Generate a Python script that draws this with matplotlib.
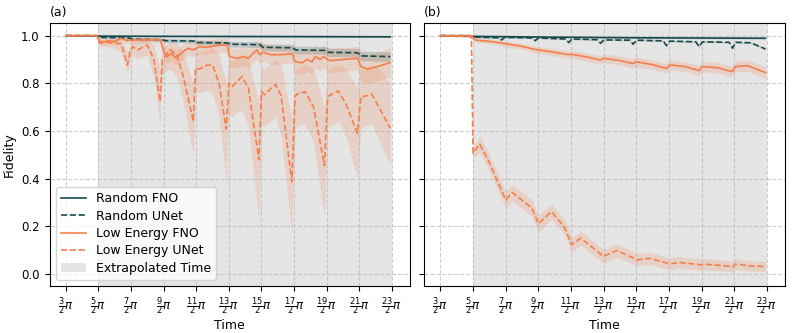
import numpy as np
import matplotlib
matplotlib.use("Agg")
import matplotlib.pyplot as plt
from matplotlib.patches import Patch
from matplotlib.lines import Line2D

# ---------------- data (time in units of pi) ----------------
tick_nums = [3, 5, 7, 9, 11, 13, 15, 17, 19, 21, 23]
extrap_start, extrap_end = 2.5, 11.5

# ---- panel (a) ----
a_rfno_t = [1.5, 2.5, 4.5, 8.5, 11.45]
a_rfno_y = [1.0, 0.998, 0.997, 0.996, 0.995]
a_rfno_w = [0.0, 0.002, 0.002, 0.003, 0.003]

a_runet_t = [1.5, 2.45, 2.55, 3.45, 3.55, 4.45, 4.55, 5.45, 5.55, 6.45, 6.55,
             7.45, 7.55, 8.45, 8.55, 9.45, 9.55, 10.45, 10.55, 11.45]
a_runet_y = [1.0, 1.0, 0.993, 0.99, 0.985, 0.983, 0.979, 0.977, 0.971, 0.969,
             0.964, 0.962, 0.951, 0.949, 0.940, 0.938, 0.930, 0.928, 0.915, 0.912]
a_runet_w = [0.0, 0.0, 0.004, 0.004, 0.006, 0.006, 0.008, 0.008, 0.010, 0.010,
             0.012, 0.012, 0.014, 0.014, 0.016, 0.016, 0.018, 0.018, 0.020, 0.020]

a_lfno_t = [1.5, 2.45, 2.55, 2.8, 3.0, 3.19, 3.35, 3.7, 4.0, 4.4, 4.5, 4.6,
            4.75, 4.85, 4.95, 5.1, 5.25, 5.4, 5.6, 5.8, 6.0, 6.2, 6.45, 6.52,
            6.75, 6.95, 7.1, 7.2, 7.36, 7.45, 7.55, 7.8, 8.1, 8.45, 8.52, 8.75,
            8.9, 9.05, 9.15, 9.3, 9.4, 9.6, 10.0, 10.45, 10.55, 10.75, 11.05, 11.45]
a_lfno_y = [1.0, 1.0, 0.968, 0.978, 0.975, 0.989, 0.98, 0.982, 0.982, 0.983,
            0.933, 0.912, 0.925, 0.908, 0.915, 0.933, 0.947, 0.94, 0.954, 0.95,
            0.955, 0.96, 0.96, 0.912, 0.905, 0.912, 0.905, 0.92, 0.94, 0.92,
            0.93, 0.92, 0.92, 0.925, 0.891, 0.886, 0.9, 0.89, 0.912, 0.9,
            0.912, 0.895, 0.9, 0.905, 0.87, 0.86, 0.87, 0.887]
a_lfno_w = [0.0, 0.0, 0.012, 0.012, 0.012, 0.012, 0.012, 0.012, 0.012, 0.012,
            0.03, 0.03, 0.03, 0.03, 0.03, 0.03, 0.03, 0.03, 0.03, 0.03,
            0.03, 0.03, 0.03, 0.04, 0.04, 0.04, 0.04, 0.04, 0.04, 0.04,
            0.04, 0.04, 0.04, 0.04, 0.05, 0.05, 0.05, 0.05, 0.05, 0.05,
            0.05, 0.05, 0.05, 0.05, 0.06, 0.06, 0.06, 0.06]

a_lunet_t = [1.5, 2.45, 2.55, 2.9, 3.2, 3.39, 3.47, 3.55, 3.7, 4.0, 4.2, 4.39,
             4.46, 4.55, 4.7, 4.9, 5.1, 5.41, 5.48, 5.6, 5.8, 6.0, 6.2, 6.42,
             6.5, 6.6, 6.9, 7.1, 7.42, 7.5, 7.6, 7.92, 8.1, 8.43, 8.53, 8.6,
             8.84, 9.1, 9.43, 9.53, 9.6, 9.86, 10.1, 10.44, 10.55, 10.65, 10.88,
             11.1, 11.45]
a_lunet_y = [1.0, 1.0, 0.975, 0.97, 0.965, 0.877, 0.933, 0.954, 0.94, 0.961,
             0.90, 0.723, 0.90, 0.915, 0.94, 0.92, 0.83, 0.64, 0.863, 0.86,
             0.875, 0.877, 0.80, 0.608, 0.80, 0.786, 0.828, 0.78, 0.479, 0.765,
             0.752, 0.796, 0.75, 0.388, 0.745, 0.755, 0.765, 0.70, 0.455, 0.745,
             0.75, 0.768, 0.71, 0.59, 0.745, 0.745, 0.755, 0.70, 0.612]
a_lunet_lo = [1.0, 1.0, 0.96, 0.95, 0.93, 0.84, 0.90, 0.92, 0.90, 0.92,
              0.82, 0.625, 0.84, 0.85, 0.86, 0.83, 0.72, 0.50, 0.77, 0.76,
              0.77, 0.76, 0.66, 0.38, 0.67, 0.66, 0.69, 0.62, 0.22, 0.63,
              0.62, 0.66, 0.58, 0.17, 0.61, 0.62, 0.63, 0.55, 0.24, 0.61,
              0.62, 0.64, 0.57, 0.40, 0.61, 0.62, 0.63, 0.56, 0.46]
a_lunet_hi = [1.0, 1.0, 0.99, 0.99, 0.985, 0.93, 0.965, 0.975, 0.975, 0.985,
              0.96, 0.86, 0.95, 0.96, 0.975, 0.97, 0.93, 0.80, 0.93, 0.93,
              0.94, 0.95, 0.92, 0.80, 0.90, 0.89, 0.92, 0.90, 0.72, 0.87,
              0.86, 0.90, 0.88, 0.65, 0.86, 0.86, 0.88, 0.86, 0.70, 0.86,
              0.86, 0.88, 0.86, 0.78, 0.86, 0.86, 0.88, 0.86, 0.80]

# ---- panel (b) ----
b_rfno_t = [1.5, 2.5, 4.5, 7.5, 11.45]
b_rfno_y = [1.0, 0.997, 0.994, 0.991, 0.989]
b_rfno_w = [0.0, 0.002, 0.002, 0.003, 0.003]

b_runet_t = [1.5, 2.4, 2.47, 2.55, 3.25, 3.37, 3.47, 4.3, 4.4, 4.5, 5.32, 5.43,
             5.52, 6.3, 6.4, 6.5, 7.3, 7.4, 7.5, 8.32, 8.42, 8.52, 9.32, 9.42,
             9.52, 10.34, 10.44, 10.54, 11.0, 11.45]
b_runet_y = [1.0, 1.0, 0.99, 0.994, 0.991, 0.982, 0.993, 0.99, 0.979, 0.99,
             0.986, 0.971, 0.986, 0.983, 0.968, 0.982, 0.981, 0.964, 0.981, 0.978,
             0.958, 0.977, 0.974, 0.954, 0.974, 0.972, 0.947, 0.972, 0.970, 0.944]
b_runet_w = [0.0, 0.0, 0.003, 0.003, 0.003, 0.004, 0.003, 0.003, 0.004, 0.003,
             0.003, 0.004, 0.003, 0.003, 0.004, 0.003, 0.003, 0.004, 0.003, 0.003,
             0.004, 0.003, 0.003, 0.004, 0.003, 0.003, 0.004, 0.003, 0.003, 0.004]

b_lfno_t = [1.5, 2.45, 2.55, 3.0, 3.4, 3.5, 4.0, 4.4, 4.5, 5.0, 5.42, 5.5, 6.0,
            6.4, 6.5, 7.0, 7.4, 7.5, 8.0, 8.42, 8.52, 9.0, 9.42, 9.52, 10.0,
            10.43, 10.53, 10.9, 11.45]
b_lfno_y = [1.0, 1.0, 0.982, 0.976, 0.968, 0.966, 0.955, 0.942, 0.94, 0.93,
            0.92, 0.922, 0.91, 0.898, 0.905, 0.895, 0.883, 0.89, 0.878, 0.862,
            0.877, 0.87, 0.853, 0.87, 0.865, 0.849, 0.87, 0.874, 0.845]
b_lfno_w = [0.0, 0.0, 0.008, 0.01, 0.01, 0.012, 0.012, 0.014, 0.014, 0.015,
            0.016, 0.016, 0.017, 0.018, 0.018, 0.019, 0.02, 0.02, 0.02, 0.02,
            0.02, 0.021, 0.022, 0.022, 0.022, 0.023, 0.023, 0.024, 0.024]

b_lunet_t = [1.5, 2.45, 2.5, 2.7, 2.96, 3.5, 3.7, 4.3, 4.5, 4.9, 5.3, 5.52,
             5.8, 6.49, 6.9, 7.53, 7.9, 8.53, 8.8, 9.5, 9.55, 10.47, 10.52,
             11.0, 11.45]
b_lunet_y = [1.0, 0.995, 0.507, 0.546, 0.479, 0.311, 0.342, 0.277, 0.211,
             0.262, 0.196, 0.123, 0.151, 0.074, 0.099, 0.06, 0.066, 0.043,
             0.049, 0.039, 0.042, 0.032, 0.042, 0.034, 0.032]
b_lunet_w = [0.0, 0.0, 0.02, 0.035, 0.035, 0.035, 0.035, 0.035, 0.035, 0.033,
             0.032, 0.03, 0.03, 0.028, 0.028, 0.026, 0.026, 0.025, 0.025, 0.024,
             0.024, 0.023, 0.023, 0.022, 0.022]

series_labels = ["Random FNO", "Random UNet", "Low Energy FNO", "Low Energy UNet"]
extrap_label = "Extrapolated Time"

# ---------------- style ----------------
TEAL = "#174a4b"
ORANGE = "#f47f4a"
LW = 1.2
DASH = (0, (3.7, 1.6))
FS = 8.5

plt.rcParams["font.family"] = ["DejaVu Sans"]
plt.rcParams["font.size"] = FS

fig = plt.figure(figsize=(7.92, 3.33), dpi=100)
axA = fig.add_axes([0.0625, 0.141, 0.455, 0.790])
axB = fig.add_axes([0.5354, 0.141, 0.4558, 0.790], sharey=axA)


def band_sym(ax, t, y, w, color, alpha=0.2):
    t = np.asarray(t); y = np.asarray(y); w = np.asarray(w)
    ax.fill_between(t, y - w, y + w, color=color, alpha=alpha, lw=0)


def setup(ax, title):
    ax.axvspan(extrap_start, extrap_end, color="gray", alpha=0.2, lw=0, zorder=0)
    ax.set_xlim(1.0, 12.05)
    ax.set_ylim(-0.05, 1.053)
    ax.set_xticks([n / 2 for n in tick_nums])
    ax.set_xticklabels([r"$\frac{%d}{2}\pi$" % n for n in tick_nums], fontsize=FS + 1)
    ax.set_yticks([0.0, 0.2, 0.4, 0.6, 0.8, 1.0])
    ax.grid(True, linestyle="--", color="#b8b8b8", alpha=0.7, lw=0.8)
    ax.set_axisbelow(True)
    ax.set_xlabel("Time", fontsize=FS + 0.5, labelpad=1)
    ax.set_title(title, loc="left", fontsize=FS + 0.5, pad=5)
    ax.tick_params(labelsize=FS)


setup(axA, "(a)")
setup(axB, "(b)")
axB.tick_params(labelleft=False)
axA.set_ylabel("Fidelity", fontsize=FS + 0.5)

# panel (a)
band_sym(axA, a_rfno_t, a_rfno_y, a_rfno_w, TEAL)
band_sym(axA, a_runet_t, a_runet_y, a_runet_w, TEAL)
band_sym(axA, a_lfno_t, a_lfno_y, a_lfno_w, ORANGE)
axA.fill_between(a_lunet_t, a_lunet_lo, a_lunet_hi, color=ORANGE, alpha=0.2, lw=0)
axA.plot(a_rfno_t, a_rfno_y, color=TEAL, lw=LW)
axA.plot(a_runet_t, a_runet_y, color=TEAL, lw=LW, linestyle=DASH)
axA.plot(a_lfno_t, a_lfno_y, color=ORANGE, lw=LW)
axA.plot(a_lunet_t, a_lunet_y, color=ORANGE, lw=LW, linestyle=DASH)

# panel (b)
band_sym(axB, b_rfno_t, b_rfno_y, b_rfno_w, TEAL)
band_sym(axB, b_runet_t, b_runet_y, b_runet_w, TEAL)
band_sym(axB, b_lfno_t, b_lfno_y, b_lfno_w, ORANGE)
band_sym(axB, b_lunet_t, b_lunet_y, b_lunet_w, ORANGE)
axB.plot(b_rfno_t, b_rfno_y, color=TEAL, lw=LW)
axB.plot(b_runet_t, b_runet_y, color=TEAL, lw=LW, linestyle=DASH)
axB.plot(b_lfno_t, b_lfno_y, color=ORANGE, lw=LW)
axB.plot(b_lunet_t, b_lunet_y, color=ORANGE, lw=LW, linestyle=DASH)

handles = [
    Line2D([], [], color=TEAL, lw=LW),
    Line2D([], [], color=TEAL, lw=LW, linestyle=DASH),
    Line2D([], [], color=ORANGE, lw=LW),
    Line2D([], [], color=ORANGE, lw=LW, linestyle=DASH),
    Patch(facecolor="gray", alpha=0.2, lw=0),
]
axA.legend(handles, series_labels + [extrap_label], loc="lower left",
           fontsize=FS + 0.5, framealpha=0.8, handlelength=2.0,
           labelspacing=0.35, borderpad=0.4)

fig.savefig("out.png", dpi=100)
